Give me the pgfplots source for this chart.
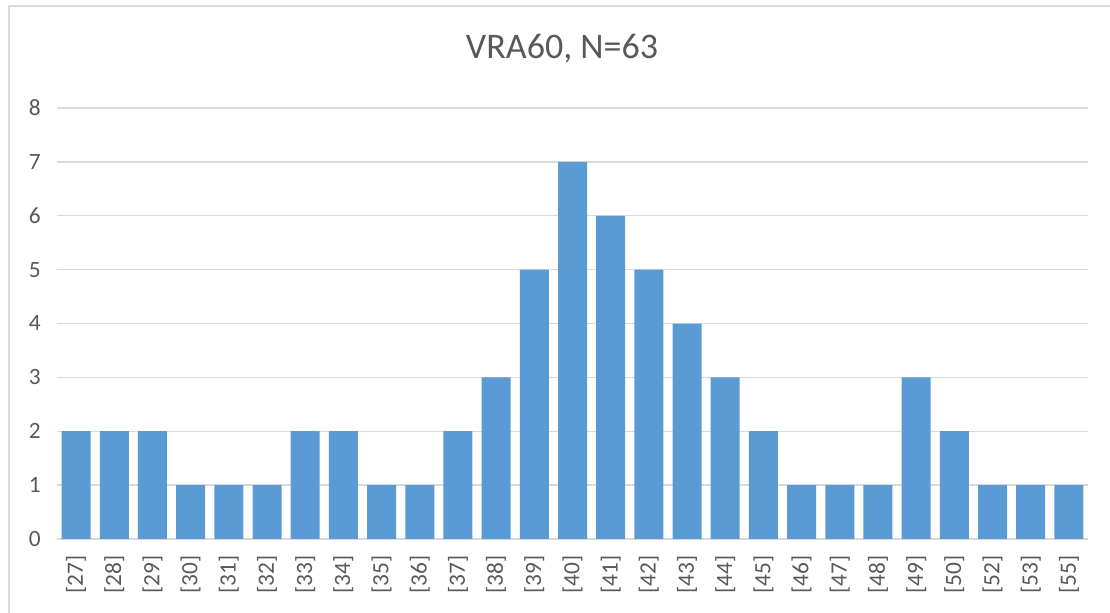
\documentclass[border=0pt]{standalone}
\usepackage{pgfplots}
\pgfplotsset{compat=1.18}
\usepackage{fontspec}
\setmainfont{Carlito}
\definecolor{barblue}{HTML}{5B9BD5}
\definecolor{gridgray}{HTML}{D9D9D9}
\definecolor{txtgray}{HTML}{595959}
\begin{document}
\begin{tikzpicture}[x=0.75pt,y=0.75pt]
\useasboundingbox (0,0) rectangle (1110,613);
\fill[white] (0,0) rectangle (1110,613);
\draw[gridgray, line width=1.5pt] (9,-20) -- (9,607) -- (1130,607);
\begin{axis}[
  at={(42.75pt,55.5pt)}, anchor=south west,
  scale only axis, width=773.25pt, height=323.25pt,
  xmin=-0.5, xmax=26.5, ymin=0, ymax=8,
  ytick={0,1,...,8},
  xtick=data,
  xticklabels={[27],[28],[29],[30],[31],[32],[33],[34],[35],[36],[37],[38],[39],[40],[41],[42],[43],[44],[45],[46],[47],[48],[49],[50],[52],[53],[55]},
  ymajorgrids, grid style={gridgray, line width=1.1pt},
  axis line style={draw=none},
  major tick length=0pt,
  /pgf/number format/assume math mode=true,
  tick label style={font=\fontsize{17.5}{19}\selectfont, text=txtgray},
  yticklabel style={anchor=east, inner sep=0pt, xshift=-12pt},
  xticklabel style={rotate=90, anchor=east, inner sep=0pt, xshift=-12pt},
  clip=false,
]
\addplot[ybar, bar width=21.75pt, fill=barblue, draw=none] coordinates {
(0,2) (1,2) (2,2) (3,1) (4,1) (5,1) (6,2) (7,2) (8,1) (9,1) (10,2) (11,3) (12,5) (13,7) (14,6) (15,5) (16,4) (17,3) (18,2) (19,1) (20,1) (21,1) (22,3) (23,2) (24,1) (25,1) (26,1)
};
\end{axis}
\node[anchor=base, inner sep=0pt, text=txtgray, font=\fontsize{27}{31}\selectfont] at (562,554) {VRA60, N=63};
\end{tikzpicture}
\end{document}
